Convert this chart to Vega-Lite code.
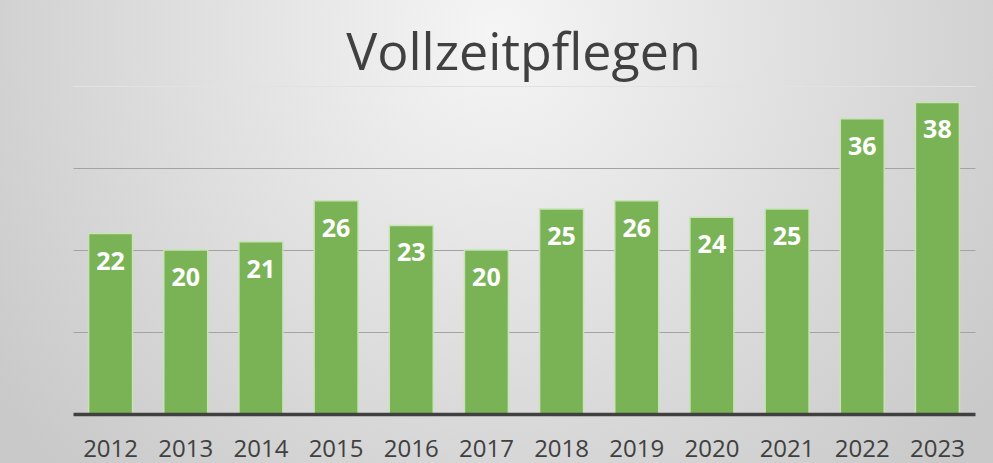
{
  "$schema": "https://vega.github.io/schema/vega-lite/v6.json",
  "autosize": "none",
  "width": 993,
  "height": 463,
  "padding": 0,
  "background": "#cfcfcf",
  "title": {
    "text": "Vollzeitpflegen",
    "fontSize": 52,
    "font": "Open Sans",
    "fontWeight": 500,
    "color": "#404040",
    "anchor": "middle",
    "baseline": "alphabetic",
    "offset": -122,
    "dx": 27
  },
  "config": {
    "view": {
      "stroke": null,
      "fill": {
        "gradient": "radial",
        "x1": 0.5, "y1": 0.3, "r1": 0,
        "x2": 0.5, "y2": 0.3, "r2": 0.62,
        "stops": [
          {"offset": 0, "color": "#f5f5f5"},
          {"offset": 1, "color": "#c9c9c9"}
        ]
      }
    }
  },
  "data": {
    "values": [
      {"jahr": "2012", "anzahl": 22},
      {"jahr": "2013", "anzahl": 20},
      {"jahr": "2014", "anzahl": 21},
      {"jahr": "2015", "anzahl": 26},
      {"jahr": "2016", "anzahl": 23},
      {"jahr": "2017", "anzahl": 20},
      {"jahr": "2018", "anzahl": 25},
      {"jahr": "2019", "anzahl": 26},
      {"jahr": "2020", "anzahl": 24},
      {"jahr": "2021", "anzahl": 25},
      {"jahr": "2022", "anzahl": 36},
      {"jahr": "2023", "anzahl": 38}
    ]
  },
  "encoding": {
    "x": {
      "field": "jahr",
      "type": "ordinal",
      "scale": {"paddingInner": 0.415, "paddingOuter": 0.2075, "range": [73, 975]},
      "axis": {
        "title": null,
        "labelAngle": 0,
        "labelFont": "Open Sans",
        "labelFontSize": 24,
        "labelColor": "#404040",
        "labelPadding": 23,
        "ticks": false,
        "domainColor": "#404040",
        "domainWidth": 3.5,
        "offset": -49,
        "zindex": 1
      }
    },
    "y": {
      "field": "anzahl",
      "type": "quantitative",
      "scale": {"domain": [0, 40], "range": [414, 86]},
      "axis": {
        "title": null,
        "labels": false,
        "ticks": false,
        "domain": false,
        "values": [10, 20, 30, 40],
        "gridColor": {"condition": {"test": "datum.value == 40", "value": "#e2e2e2"}, "value": "#a3a3a3"},
        "gridWidth": 1.2
      }
    }
  },
  "layer": [
    {
      "mark": {"type": "bar", "color": "#7ab356", "stroke": "#c8e3b5", "strokeWidth": 1.5}
    },
    {
      "mark": {
        "type": "text",
        "color": "white",
        "font": "Open Sans",
        "fontWeight": "bold",
        "fontSize": 25,
        "baseline": "middle",
        "dy": 28
      },
      "encoding": {"text": {"field": "anzahl", "type": "quantitative"}}
    }
  ]
}
